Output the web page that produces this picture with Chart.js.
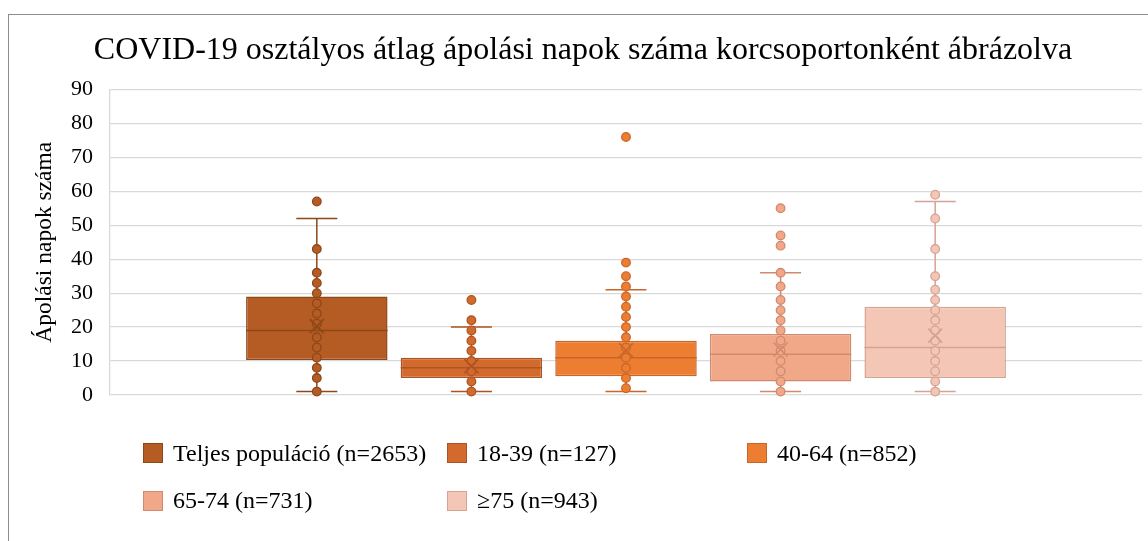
<!DOCTYPE html>
<html>
<head>
<meta charset="utf-8">
<script src="https://cdn.jsdelivr.net/npm/chart.js@4.4.1/dist/chart.umd.min.js"></script>
<style>
  html, body { margin: 0; padding: 0; background: #fff; overflow: hidden; }
  #wrap { position: relative; width: 1148px; height: 541px; overflow: hidden; }
  #frame { position: absolute; left: 8px; top: 14px; width: 1200px; height: 600px; border: 1.5px solid #8c8c8c; box-sizing: border-box; }
  canvas { position: absolute; left: 0; top: 0; }
  .lg { position: absolute; display: flex; align-items: center; font-family: 'Liberation Serif', 'Times New Roman', serif; font-size: 24px; color: #000; white-space: nowrap; }
  .sw { width: 18px; height: 18px; border: 1px solid; margin-right: 10px; }
</style>
</head>
<body>
<div id="wrap">
  <div id="frame"></div>
  <canvas id="c" width="1148" height="541"></canvas>
</div>
<script>
// ---- data ----
const chartTitle = 'COVID-19 osztályos átlag ápolási napok száma korcsoportonként ábrázolva';
const yAxisTitle = 'Ápolási napok száma';
const categories = ['Teljes populáció (n=2653)', '18-39 (n=127)', '40-64 (n=852)', '65-74 (n=731)', '≥75 (n=943)'];
const whiskerLow  = [1, 1, 1, 1, 1];
const q1          = [10.3, 5, 5.5, 4, 5];
const median      = [19, 8, 11, 12, 14];
const q3          = [29, 11, 16, 18, 26];
const whiskerHigh = [52, 20, 31, 36, 57];
const mean        = [20.3, 8.5, 13.2, 13.4, 17.5];
const pointsTeljes = [57, 43, 36, 33, 30, 27, 24, 21, 17, 14, 11, 8, 5, 1];
const points1839   = [28, 22, 19, 16, 13, 10, 7, 4, 1];
const points4064   = [76, 39, 35, 32, 29, 26, 23, 20, 17, 14, 11, 8, 5, 2];
const points6574   = [55, 47, 44, 36, 32, 28, 25, 22, 19, 16, 13, 10, 7, 4, 1];
const points75     = [59, 52, 43, 35, 31, 28, 25, 22, 19, 16, 13, 10, 7, 4, 1];
const yTicks = [0, 10, 20, 30, 40, 50, 60, 70, 80, 90];

// ---- styles ----
const allPoints = [pointsTeljes, points1839, points4064, points6574, points75];
const fillColors   = ['#B45C23', '#D26A2D', '#ED7D31', '#F0A888', '#F4C6B6'];
const borderColors = ['#8E4719', '#AE5422', '#C8662A', '#D08A6E', '#D6A393'];
const legendPos = [[143, 443], [447, 443], [747, 443], [143, 490.5], [447, 490.5]];
const serif = "'Liberation Serif', 'Times New Roman', serif";

const boxPlugin = {
  id: 'boxExtras',
  afterDatasetsDraw(chart) {
    const ctx = chart.ctx;
    const ys = chart.scales.y;
    chart.data.datasets.forEach((ds, i) => {
      const bar = chart.getDatasetMeta(i).data[0];
      const x = bar.x, w = bar.width;
      const col = borderColors[i];
      ctx.save();
      ctx.strokeStyle = col;
      ctx.lineWidth = 1.5;
      const capHalf = w * 0.145;
      const yh = ys.getPixelForValue(whiskerHigh[i]);
      const yl = ys.getPixelForValue(whiskerLow[i]);
      ctx.beginPath();
      ctx.moveTo(x, ys.getPixelForValue(q3[i])); ctx.lineTo(x, yh);
      ctx.moveTo(x, ys.getPixelForValue(q1[i])); ctx.lineTo(x, yl);
      ctx.moveTo(x - capHalf, yh); ctx.lineTo(x + capHalf, yh);
      ctx.moveTo(x - capHalf, yl); ctx.lineTo(x + capHalf, yl);
      const ym = ys.getPixelForValue(median[i]);
      ctx.moveTo(x - w / 2, ym); ctx.lineTo(x + w / 2, ym);
      ctx.stroke();
      allPoints[i].forEach(v => {
        ctx.beginPath();
        ctx.arc(x, ys.getPixelForValue(v), 4.3, 0, Math.PI * 2);
        ctx.fillStyle = fillColors[i];
        ctx.fill();
        ctx.lineWidth = 1.3;
        ctx.stroke();
      });
      const ymean = ys.getPixelForValue(mean[i]);
      const s = 7;
      ctx.lineWidth = 1.6;
      ctx.beginPath();
      ctx.moveTo(x - s, ymean - s); ctx.lineTo(x + s, ymean + s);
      ctx.moveTo(x + s, ymean - s); ctx.lineTo(x - s, ymean + s);
      ctx.stroke();
      ctx.restore();
    });
  }
};

const datasets = categories.map((name, i) => ({
  label: name,
  data: [[q1[i], q3[i]]],
  backgroundColor: fillColors[i],
  borderColor: borderColors[i],
  borderWidth: 1.5,
  borderSkipped: false,
  categoryPercentage: 0.749,
  barPercentage: 0.915
}));

new Chart(document.getElementById('c'), {
  type: 'bar',
  data: { labels: [''], datasets },
  plugins: [boxPlugin],
  options: {
    responsive: false,
    animation: false,
    devicePixelRatio: 1,
    layout: { padding: { left: 24, right: 6, bottom: 146, top: 0 } },
    plugins: {
      legend: { display: false },
      tooltip: { enabled: false },
      title: {
        display: true,
        text: chartTitle,
        color: '#000',
        font: { family: serif, size: 32, weight: 'normal' },
        padding: { top: 31.5, bottom: 19.6 }
      }
    },
    scales: {
      x: { display: false, offset: true },
      y: {
        min: 0, max: 90,
        afterBuildTicks(scale) { scale.ticks = yTicks.map(v => ({ value: v })); },
        afterFit(scale) { scale.width = 86; },
        border: { display: true, color: '#d9d9d9', width: 1.3 },
        grid: { color: '#d9d9d9', lineWidth: 1.3, drawTicks: false },
        ticks: { color: '#000', padding: 17, font: { family: serif, size: 22 } },
        title: {
          display: true, text: yAxisTitle, color: '#000',
          font: { family: serif, size: 23.5 }, padding: { top: 7, bottom: 0 }
        }
      }
    }
  }
});

// HTML legend
const wrap = document.getElementById('wrap');
categories.forEach((name, i) => {
  const d = document.createElement('div');
  d.className = 'lg';
  d.style.left = legendPos[i][0] + 'px';
  d.style.top = legendPos[i][1] + 'px';
  d.style.height = '20px';
  const sw = document.createElement('span');
  sw.className = 'sw';
  sw.style.background = fillColors[i];
  sw.style.borderColor = borderColors[i];
  const t = document.createElement('span');
  t.textContent = name;
  d.appendChild(sw); d.appendChild(t);
  wrap.appendChild(d);
});
</script>
</body>
</html>
